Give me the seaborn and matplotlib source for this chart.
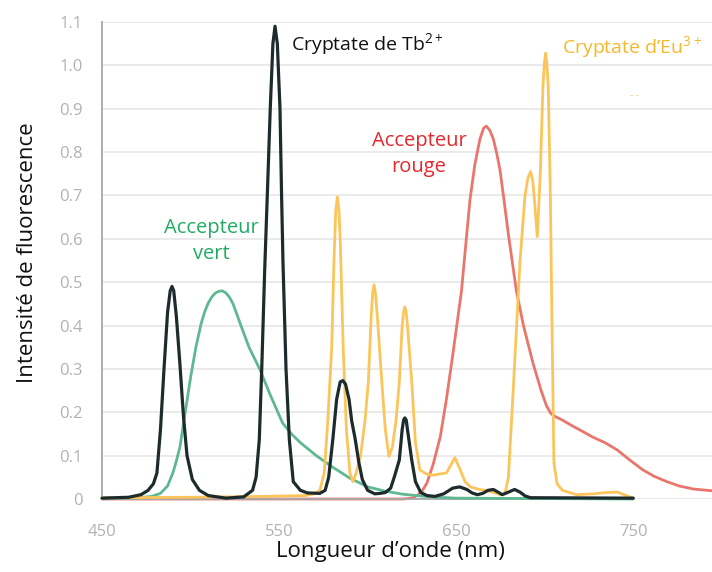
import matplotlib.pyplot as plt
import pandas as pd
import seaborn as sns

# Cryptate de Tb (black)
tb_nm = [450, 465, 472, 476, 479, 481, 483, 485, 487, 488.5, 489.5, 490.5, 492, 494, 496, 498, 501, 505, 510,
         520, 530, 535, 537, 538.8, 540.2, 541.8, 543.5, 545, 546.5, 547.7, 549, 550.5, 551.4, 552.2, 553.9,
         555.8, 558, 562, 566, 573, 576, 578, 580.4, 582.5, 584.5, 586, 587.5, 589.5, 591, 592.9, 595, 597,
         600, 604, 607, 610, 613, 615, 617.9, 619.5, 620.3, 621, 621.8, 622.5, 624.9, 627, 630, 633.5, 638,
         643, 648, 652, 656, 659, 662, 665, 668, 671, 674, 676, 679, 683, 686, 689, 692, 750]
tb_val = [0.002, 0.004, 0.01, 0.02, 0.035, 0.06, 0.16, 0.30, 0.43, 0.48, 0.49, 0.48, 0.42, 0.31, 0.19, 0.10,
          0.045, 0.02, 0.008, 0.002, 0.005, 0.02, 0.05, 0.136, 0.30, 0.52, 0.72, 0.90, 1.05, 1.09, 1.05, 0.90,
          0.70, 0.545, 0.30, 0.136, 0.04, 0.02, 0.014, 0.013, 0.02, 0.05, 0.14, 0.23, 0.27, 0.273, 0.265, 0.23,
          0.18, 0.14, 0.085, 0.045, 0.02, 0.012, 0.013, 0.015, 0.025, 0.05, 0.09, 0.16, 0.182, 0.187, 0.182,
          0.16, 0.09, 0.04, 0.015, 0.008, 0.006, 0.012, 0.025, 0.028, 0.022, 0.014, 0.01, 0.013, 0.02, 0.022,
          0.015, 0.01, 0.015, 0.022, 0.016, 0.007, 0.003, 0.002]

# Accepteur vert (green)
vert_nm = [450, 470, 478, 483, 487, 490, 492, 494, 497, 500, 503, 506, 508, 510, 512, 514, 516, 518, 520, 522,
           524, 528, 533, 539, 545, 552, 557, 562, 571, 580, 590, 600, 610, 620, 635, 650, 750]
vert_val = [0.002, 0.003, 0.006, 0.013, 0.03, 0.06, 0.088, 0.12, 0.2, 0.28, 0.35, 0.405, 0.432, 0.452, 0.466,
            0.475, 0.479, 0.48, 0.475, 0.465, 0.45, 0.405, 0.35, 0.30, 0.24, 0.175, 0.15, 0.13, 0.10, 0.074,
            0.048, 0.028, 0.018, 0.011, 0.005, 0.002, 0.0]

# Cryptate d'Eu (orange)
eu_nm = [450, 500, 540, 565, 570, 573, 575.5, 577.5, 579.7, 581, 582, 582.9, 583.8, 584.5, 586.2, 588, 590,
         591.7, 593.5, 596, 598.5, 600.4, 602, 602.8, 603.6, 604.4, 605.5, 608, 610, 612, 614, 616, 617.9, 619.5,
         620.3, 621, 621.8, 622.5, 624.9, 627, 629.5, 633, 637, 641, 644.5, 646.5, 649.3, 652, 655, 658, 663,
         667, 671, 675, 677.5, 679.5, 682, 686, 688.8, 690.5, 692, 693.2, 694, 695.8, 697.5, 699, 699.8, 700.5,
         701.2, 702, 703.2, 703.9, 705.2, 707, 710, 718, 728, 735, 741, 746, 750]
eu_val = [0.003, 0.004, 0.006, 0.008, 0.012, 0.02, 0.06, 0.18, 0.35, 0.55, 0.665, 0.697, 0.665, 0.6, 0.35, 0.16,
          0.06, 0.04, 0.06, 0.1, 0.18, 0.27, 0.42, 0.475, 0.494, 0.475, 0.42, 0.27, 0.16, 0.098, 0.12, 0.18, 0.27,
          0.4, 0.43, 0.443, 0.43, 0.4, 0.27, 0.13, 0.067, 0.058, 0.055, 0.058, 0.06, 0.075, 0.095, 0.07, 0.04,
          0.028, 0.022, 0.02, 0.015, 0.01, 0.012, 0.05, 0.235, 0.544, 0.697, 0.74, 0.755, 0.735, 0.7, 0.605,
          0.75, 0.95, 1.005, 1.028, 1.005, 0.95, 0.7, 0.467, 0.083, 0.035, 0.02, 0.01, 0.012, 0.015, 0.016,
          0.008, 0.002]

# Accepteur rouge (red)
rouge_nm = [450, 620, 625, 628, 631, 633.5, 637, 641, 644.5, 648, 650.5, 653, 655.5, 657.8, 660.5, 663.4, 665.5,
            667, 669, 671, 673, 674.7, 677, 679.5, 684, 688, 693.4, 698, 701, 703.5, 706, 710, 715, 720, 727,
            734, 741, 748, 755.5, 762, 769, 776, 784, 794.6]
rouge_val = [0.0, 0.0, 0.002, 0.008, 0.02, 0.037, 0.08, 0.143, 0.23, 0.33, 0.405, 0.48, 0.59, 0.69, 0.77, 0.83,
             0.855, 0.86, 0.85, 0.83, 0.795, 0.76, 0.69, 0.61, 0.48, 0.40, 0.313, 0.25, 0.215, 0.197, 0.19, 0.182,
             0.17, 0.159, 0.143, 0.13, 0.113, 0.09, 0.067, 0.052, 0.04, 0.03, 0.023, 0.019]

x_ticks = [450, 550, 650, 750]
y_ticks = [0, 0.1, 0.2, 0.3, 0.4, 0.5, 0.6, 0.7, 0.8, 0.9, 1.0, 1.1]
y_labels = ['0', '0.1', '0.2', '0.3', '0.4', '0.5', '0.6', '0.7', '0.8', '0.9', '1.0', '1.1']

sns.set_theme(style="white")
plt.rcParams['font.family'] = ['Open Sans', 'DejaVu Sans']
plt.rcParams['mathtext.fontset'] = 'custom'
plt.rcParams['mathtext.rm'] = 'Open Sans'

fig = plt.figure(figsize=(7.12, 5.72), dpi=100)
ax = fig.add_axes([0.1433, 0.1276, 0.857, 0.834])

series = [
    ('rouge', rouge_nm, rouge_val, '#e9766c', 2.0, 2),
    ('vert', vert_nm, vert_val, '#5fb892', 2.0, 3),
    ('eu', eu_nm, eu_val, '#fbc55c', 2.0, 4),
    ('tb', tb_nm, tb_val, '#1d2b2d', 2.3, 5),
]
for name, xs, ys, col, lw, z in series:
    df = pd.DataFrame({'nm': xs, 'val': ys})
    sns.lineplot(data=df, x='nm', y='val', color=col, linewidth=lw, ax=ax, estimator=None,
                 sort=False, zorder=z, clip_on=False, solid_joinstyle='round', solid_capstyle='round')

ax.set_xlim(450, 794.6)
ax.set_ylim(0, 1.1)
ax.set_yticks(y_ticks)
ax.set_yticklabels(y_labels)
ax.set_xticks(x_ticks)
ax.yaxis.grid(True, color='#e6e6e6', linewidth=1.2, zorder=0)
ax.xaxis.grid(False)
ax.set_axisbelow(True)
for s in ['top', 'right']:
    ax.spines[s].set_visible(False)
ax.spines['bottom'].set_bounds(450, 750)
ax.spines['left'].set_bounds(0, 1.1)
for s in ['left', 'bottom']:
    ax.spines[s].set_color('#a8a8a8')
    ax.spines[s].set_linewidth(1.3)
ax.tick_params(axis='both', colors='#a8a8a8', length=8, width=1.2, labelsize=12,
               labelcolor='#b2b2b2', direction='out')
ax.tick_params(axis='y', pad=6)
ax.tick_params(axis='x', pad=10)

ax.set_xlabel('Longueur d’onde (nm)', fontsize=16, color='#111111')
ax.set_ylabel('Intensité de fluorescence', fontsize=16, color='#111111')
ax.xaxis.set_label_coords(0.473, -0.088)
ax.yaxis.set_label_coords(-0.105, 0.517)

ax.text(556.7, 1.047, r'Cryptate de Tb$^{\mathrm{2+}}$', fontsize=14, color='#111111', va='center', ha='left')
ax.text(709.7, 1.04, r'Cryptate d’Eu$^{\mathrm{3+}}$', fontsize=14, color='#f6b82a', va='center', ha='left')
ax.text(629, 0.795, 'Accepteur\nrouge', fontsize=14.5, color='#e8262c', va='center', ha='center',
        linespacing=1.4)
ax.text(511.5, 0.595, 'Accepteur\nvert', fontsize=14.5, color='#1fab62', va='center', ha='center',
        linespacing=1.4)
ax.text(748, 0.93, '- -', fontsize=7, color='#f6c77a', va='center', ha='left')

fig.savefig('out.png', dpi=100)
